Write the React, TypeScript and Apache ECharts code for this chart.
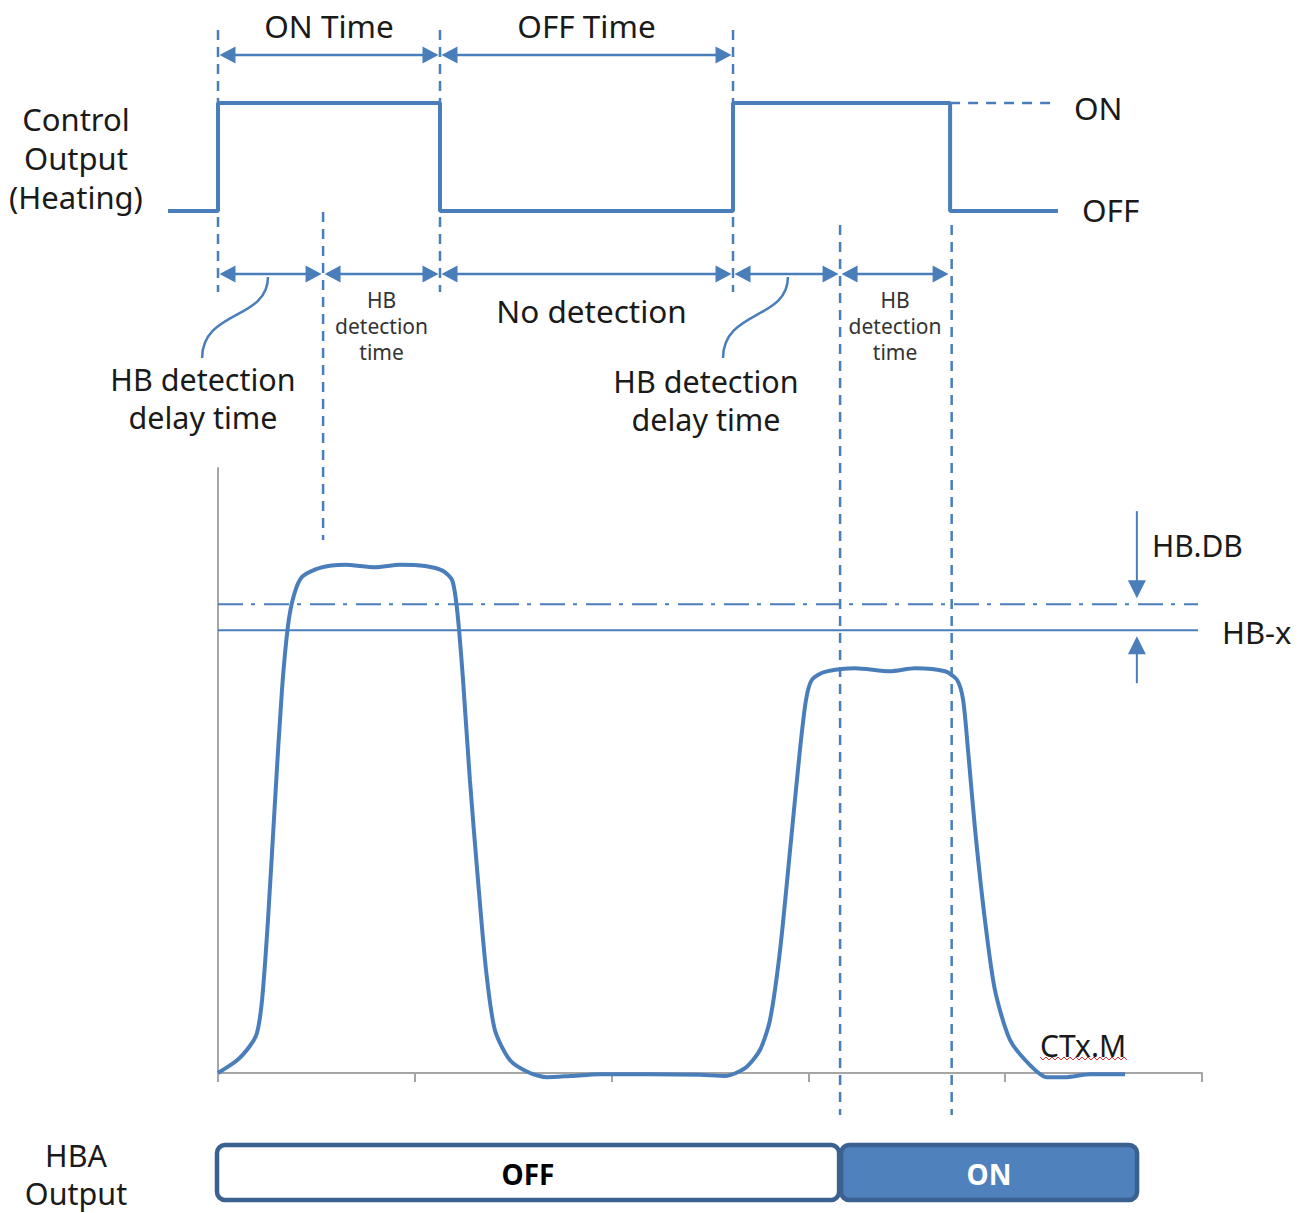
import React, { useEffect, useRef } from "react";
import * as echarts from "echarts";

// ---------------- DATA ----------------
// Time axis of the current chart (ticks 0..5)
const xTicks = [0, 1, 2, 3, 4, 5];

// Heater current (CTx.M) samples: [time, % of axis height]
const currentSamples: [number, number][] = [
  [0, 0], [0.097, 2.1], [0.163, 4.5], [0.198, 6.6], [0.224, 12.1], [0.254, 25.3],
  [0.29, 45.1], [0.325, 63.3], [0.356, 74.0], [0.386, 79.0], [0.427, 82.0],
  [0.518, 83.5], [0.645, 84.0], [0.798, 83.6], [0.925, 84.0], [1.052, 83.8],
  [1.143, 83.0], [1.189, 81.5], [1.209, 78.2], [1.225, 73.2], [1.245, 65.0],
  [1.28, 48.4], [1.321, 31.9], [1.362, 17.0], [1.407, 7.1], [1.484, 2.1],
  [1.585, 0], [1.672, -0.7], [1.789, -0.5], [1.941, -0.2], [2.195, -0.2],
  [2.449, -0.3], [2.576, -0.5], [2.678, 0.8], [2.754, 3.8], [2.805, 8.8],
  [2.856, 20.3], [2.907, 36.9], [2.957, 53.4], [2.988, 61.7], [3.018, 65.0],
  [3.084, 66.3], [3.237, 66.9], [3.415, 66.4], [3.542, 66.9], [3.694, 66.4],
  [3.755, 65.0], [3.786, 61.7], [3.811, 53.4], [3.847, 40.2], [3.897, 25.3],
  [3.948, 13.7], [4.024, 5.5], [4.126, 1.3], [4.212, -0.7], [4.303, -0.7],
  [4.431, -0.2], [4.609, -0.2],
];

// Thresholds
const hbX = 73.2;
const hbDB = 4.3;
const thresholdEnd = 4.98;
const hbDbMarkerTime = 4.669;

// Control output (heating): [time, level 0=OFF 1=ON]
const controlOutput: [number, number][] = [
  [-0.254, 0], [0, 1], [1.128, 0], [2.617, 1], [3.72, 0], [4.268, 0],
];
const onExtension: [number, number][] = [[3.72, 1], [4.238, 1]];

// Time spans (dimension arrows)
const spans = [
  { from: 0, to: 1.128, row: "time", label: ["ON Time"], kind: "big" },
  { from: 1.128, to: 2.617, row: "time", label: ["OFF Time"], kind: "big" },
  { from: 0, to: 0.534, row: "detect", label: [], kind: "none" },
  { from: 0.534, to: 1.128, row: "detect", label: ["HB", "detection", "time"], kind: "small" },
  { from: 1.128, to: 2.617, row: "detect", label: ["No detection"], kind: "mid" },
  { from: 2.617, to: 3.161, row: "detect", label: [], kind: "none" },
  { from: 3.161, to: 3.72, row: "detect", label: ["HB", "detection", "time"], kind: "small" },
];

// Dashed guide lines
const guides = [
  { t: 0, kind: "upper" },
  { t: 1.128, kind: "upper" },
  { t: 2.617, kind: "upper" },
  { t: 0.534, kind: "delay" },
  { t: 3.161, kind: "long" },
  { t: 3.728, kind: "long" },
];

// Connectors from the delay span to its label
const connectors = [
  { from: 0.254, to: -0.081 },
  { from: 2.896, to: 2.566 },
];

// HBA output states
const hbaStates = [
  { from: 0, to: 3.161, state: "OFF" },
  { from: 3.161, to: 4.67, state: "ON" },
];

// ---------------- LAYOUT / STYLE ----------------
const W = 1304;
const H = 1213;
const X0_PX = 218;
const UNIT_PX = 196.8;
const XMIN = -X0_PX / UNIT_PX;
const XMAX = (W - X0_PX) / UNIT_PX;
const BLUE = "#4a7ebb";
const DARK_BLUE = "#3b6190";
const FILL_BLUE = "#4f81bd";
const GRAY = "#a6a6a6";
const TEXT = "#1a1a1a";
const FONT = '"Noto Sans", sans-serif';
const BIG = `31.5px ${FONT}`;
const MULTI = `30.5px ${FONT}`;
const SMALL = `21px ${FONT}`;

const ROW = {
  timeArrow: 55,
  detectArrow: 274,
  upper: [30, 292],
  delay: [212, 540],
  long: [225, 1115],
  connTop: 277,
  connBottom: 358,
  hbaTop: 1145,
  hbaBottom: 1200,
};

function head(tip: number[], dx: number, dy: number, len = 16, half = 8.5) {
  const bx = tip[0] - dx * len;
  const by = tip[1] - dy * len;
  return {
    type: "polygon",
    shape: { points: [[tip[0], tip[1]], [bx - dy * half, by + dx * half], [bx + dy * half, by - dx * half]] },
    style: { fill: BLUE },
  };
}

// separate text element per line (centered at given y positions)
function textLines(lines: string[], x: number, ys: number[], font: string, align = "center", fill = TEXT) {
  return lines.map((t, i) => ({
    type: "text",
    style: { text: t, x, y: ys[i], font, fill, align, verticalAlign: "middle" },
  }));
}

function buildOption(): any {
  const overlay = { xAxisIndex: 2, yAxisIndex: 2, coordinateSystem: "cartesian2d" };

  const wavy: number[][] = [];
  for (let x = 1040, i = 0; x <= 1128; x += 3, i++) wavy.push([x, i % 2 === 0 ? 1057 : 1060]);

  return {
    animation: false,
    backgroundColor: "#fff",
    grid: [
      { left: X0_PX, top: 468, width: 984, height: 605 },
      { left: 0, top: 103, width: W, height: 108 },
      { left: 0, top: 0, width: W, height: H },
    ],
    xAxis: [
      {
        gridIndex: 0, type: "value", min: xTicks[0], max: xTicks[xTicks.length - 1], interval: 1,
        axisLine: { show: true, lineStyle: { color: GRAY, width: 2 } },
        axisTick: { show: true, length: 9, lineStyle: { color: GRAY, width: 2 } },
        axisLabel: { show: false }, splitLine: { show: false },
      },
      { gridIndex: 1, type: "value", min: XMIN, max: XMAX, show: false },
      { gridIndex: 2, type: "value", min: XMIN, max: XMAX, show: false },
    ],
    yAxis: [
      {
        gridIndex: 0, type: "value", min: 0, max: 100,
        axisLine: { show: true, lineStyle: { color: GRAY, width: 2 } },
        axisTick: { show: false }, axisLabel: { show: false }, splitLine: { show: false },
      },
      { gridIndex: 1, type: "value", min: 0, max: 1, show: false },
      { gridIndex: 2, type: "value", min: 0, max: H, inverse: true, show: false },
    ],
    series: [
      // thresholds
      {
        type: "line", xAxisIndex: 0, yAxisIndex: 0, symbol: "none", silent: true,
        data: [[0, hbX + hbDB], [thresholdEnd, hbX + hbDB]],
        lineStyle: { color: BLUE, width: 2, type: [25, 8, 4, 9] },
      },
      {
        type: "line", xAxisIndex: 0, yAxisIndex: 0, symbol: "none", silent: true,
        data: [[0, hbX], [thresholdEnd, hbX]],
        lineStyle: { color: BLUE, width: 2 },
      },
      // current curve
      {
        type: "line", xAxisIndex: 0, yAxisIndex: 0, symbol: "none", smooth: 0.25, clip: false,
        data: currentSamples, lineStyle: { color: BLUE, width: 4 }, z: 3,
      },
      // HB.DB arrows
      {
        type: "custom", xAxisIndex: 0, yAxisIndex: 0, coordinateSystem: "cartesian2d",
        data: [[hbDbMarkerTime, hbX]],
        renderItem: (_p: any, api: any) => {
          const pDb = api.coord([hbDbMarkerTime, hbX + hbDB]);
          const pX = api.coord([hbDbMarkerTime, hbX]);
          const x = pDb[0];
          const t1 = [x, pDb[1] - 6];
          const t2 = [x, pX[1] + 6];
          return {
            type: "group",
            children: [
              { type: "line", shape: { x1: x, y1: pDb[1] - 93, x2: x, y2: t1[1] - 10 }, style: { stroke: BLUE, lineWidth: 2 } },
              head(t1, 0, 1, 18, 9),
              { type: "line", shape: { x1: x, y1: pX[1] + 53, x2: x, y2: t2[1] + 10 }, style: { stroke: BLUE, lineWidth: 2 } },
              head(t2, 0, -1, 18, 9),
            ],
          };
        },
      },
      // control output
      {
        type: "line", xAxisIndex: 1, yAxisIndex: 1, symbol: "none", step: "end", clip: false,
        data: controlOutput, lineStyle: { color: BLUE, width: 4 }, z: 4,
      },
      {
        type: "line", xAxisIndex: 1, yAxisIndex: 1, symbol: "none", clip: false,
        data: onExtension, lineStyle: { color: BLUE, width: 2.5, type: [10, 8] },
      },
      // dashed guides
      {
        type: "custom", ...overlay,
        data: guides.map((g) => [g.t, 0]),
        renderItem: (p: any, api: any) => {
          const g = guides[p.dataIndex];
          const r = (ROW as any)[g.kind] as number[];
          const a = api.coord([g.t, r[0]]);
          const b = api.coord([g.t, r[1]]);
          return {
            type: "line",
            shape: { x1: a[0], y1: a[1], x2: b[0], y2: b[1] },
            style: { stroke: BLUE, lineWidth: 2.5, lineDash: [10, 7] },
          };
        },
      },
      // spans
      {
        type: "custom", ...overlay,
        data: spans.map((s) => [s.from, s.to]),
        renderItem: (p: any, api: any) => {
          const s = spans[p.dataIndex];
          const row = s.row === "time" ? ROW.timeArrow : ROW.detectArrow;
          const a = api.coord([s.from, row]);
          const b = api.coord([s.to, row]);
          const y = a[1];
          const x1 = a[0] + 1.5;
          const x2 = b[0] - 1.5;
          const children: any[] = [
            { type: "line", shape: { x1: x1 + 8, y1: y, x2: x2 - 8, y2: y }, style: { stroke: BLUE, lineWidth: 2.5 } },
            head([x1, y], -1, 0),
            head([x2, y], 1, 0),
          ];
          const cx = (a[0] + b[0]) / 2;
          if (s.kind === "big") {
            children.push(...textLines(s.label, cx, [y - 30], BIG));
          } else if (s.kind === "mid") {
            children.push(...textLines(s.label, cx + 5, [y + 36], BIG));
          } else if (s.kind === "small") {
            children.push(...textLines(s.label, cx, [y + 26, y + 52, y + 78], SMALL, "center", "#333"));
          }
          return { type: "group", children };
        },
      },
      // connectors
      {
        type: "custom", ...overlay,
        data: connectors.map((c) => [c.from, c.to]),
        renderItem: (p: any, api: any) => {
          const c = connectors[p.dataIndex];
          const a = api.coord([c.from, ROW.connTop]);
          const b = api.coord([c.to, ROW.connBottom]);
          return {
            type: "bezierCurve",
            shape: { x1: a[0], y1: a[1], cpx1: a[0], cpy1: a[1] + 43, cpx2: b[0], cpy2: b[1] - 48, x2: b[0], y2: b[1] },
            style: { stroke: BLUE, lineWidth: 2.5, fill: "none" },
          };
        },
      },
      // HBA output
      {
        type: "custom", ...overlay,
        data: hbaStates.map((s) => [s.from, s.to]),
        renderItem: (p: any, api: any) => {
          const s = hbaStates[p.dataIndex];
          const a = api.coord([s.from, ROW.hbaTop]);
          const b = api.coord([s.to, ROW.hbaBottom]);
          const on = s.state === "ON";
          const x = a[0] + (p.dataIndex === 0 ? -1 : 1);
          const w = b[0] - x - (p.dataIndex === 0 ? 1 : 0);
          return {
            type: "group",
            children: [
              { type: "rect", shape: { x, y: a[1], width: w, height: b[1] - a[1], r: 8 }, style: { fill: on ? FILL_BLUE : "#fff", stroke: DARK_BLUE, lineWidth: 4.5 } },
              { type: "text", style: { text: s.state, x: x + w / 2, y: (a[1] + b[1]) / 2 + 1, font: `bold 28px ${FONT}`, fill: on ? "#fff" : "#000", align: "center", verticalAlign: "middle" } },
            ],
          };
        },
      },
    ],
    graphic: [
      ...textLines(["Control", "Output", "(Heating)"], 76, [119, 158, 197], `31px ${FONT}`),
      ...textLines(["ON"], 1074, [107], BIG, "left"),
      ...textLines(["OFF"], 1082, [209], BIG, "left"),
      ...textLines(["HB detection", "delay time"], 203, [379, 417], MULTI),
      ...textLines(["HB detection", "delay time"], 706, [381, 419], MULTI),
      ...textLines(["HB.DB"], 1152, [545], `30px ${FONT}`, "left"),
      ...textLines(["HB-x"], 1222, [632], `31px ${FONT}`, "left"),
      ...textLines(["CTx.M"], 1040, [1045], `30px ${FONT}`, "left"),
      { type: "polyline", shape: { points: wavy }, style: { stroke: "#e03030", lineWidth: 1, fill: "none" } },
      ...textLines(["HBA", "Output"], 76, [1155, 1193], MULTI),
    ],
  };
}

export default function App() {
  const ref = useRef<HTMLDivElement>(null);
  useEffect(() => {
    const chart = echarts.init(ref.current!, null, { renderer: "svg" });
    chart.setOption(buildOption());
    return () => chart.dispose();
  }, []);
  return (
    <div
      ref={ref}
      style={{ position: "absolute", left: 0, top: 0, width: W, height: H, background: "#fff" }}
    />
  );
}
